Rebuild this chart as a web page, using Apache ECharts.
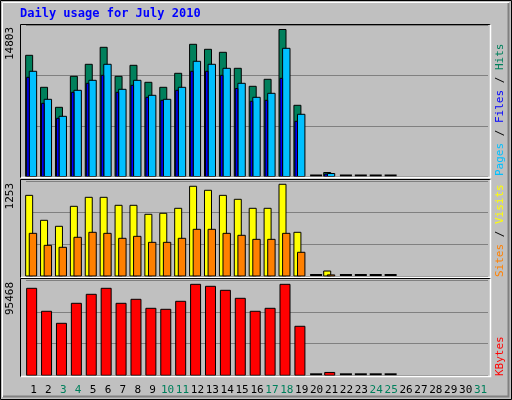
<!DOCTYPE html>
<html><head><meta charset="utf-8">
<script src="https://cdn.jsdelivr.net/npm/echarts@6/dist/echarts.min.js"></script>
<style>html,body{margin:0;padding:0;background:#c0c0c0}#c{width:512px;height:400px}</style>
</head><body><div id="c"></div>
<script>
const days = Array.from({length:31},(_,i)=>String(i+1));
const weekend = [3,4,10,11,17,18,24,25,31];
const hits  = [12205,8982,6968,10090,11298,13010,10090,11198,9486,8982,10392,13312,12809,12507,10896,9083,9788,14803,7170,0,400,0,0,0,0,null,null,null,null,null,null];
const pages = [10594,7774,6062,8680,9687,11299,8781,9687,8177,7774,8982,11601,11299,10896,9385,7975,8378,12910,6264,0,300,0,0,0,0,null,null,null,null,null,null];
const files = [9989,7371,5861,8479,9385,10191,8479,9184,7975,7673,8680,10594,10594,10191,8862,7573,7673,9889,5559,0,250,0,0,0,0,null,null,null,null,null,null];
const visits= [1102,761,679,952,1075,1075,966,966,843,857,925,1226,1171,1102,1048,925,925,1253,597,0,68,0,0,0,0,null,null,null,null,null,null];
const sites = [583,419,392,529,597,583,515,542,460,460,515,638,638,583,556,501,501,583,324,0,15,0,0,0,0,null,null,null,null,null,null];
const kbytes= [91290,67160,54560,75550,84990,91290,75550,79750,70300,69250,77650,95468,93390,89190,80800,67160,70300,95468,51420,0,3000,0,0,0,0,null,null,null,null,null,null];
const maxLabels = ['14803','1253','95468'];

const FONT = 'DejaVu Sans Mono';
const grids = [{top:25,height:151.5},{top:181,height:95},{top:280,height:95.3}];
const maxes = [15256,1298,100000];

function barSeries(data, gi, x0, x1, color, dash){
  return {type:'custom', xAxisIndex:gi, yAxisIndex:gi, data:data.map((v,i)=>[i,v]),
    renderItem(params, api){
      const v = api.value(1);
      if (v === null || isNaN(v)) return;
      const base = api.coord([api.value(0),0]);
      if (v === 0) {
        if (!dash) return;
        return {type:'rect', shape:{x:base[0]-6.5,y:base[1]-2,width:12,height:2}, style:{fill:'#000'}};
      }
      const top = api.coord([api.value(0),v]);
      return {type:'rect', shape:{x:base[0]+x0, y:top[1], width:x1-x0, height:base[1]-top[1]},
        style:{fill:color, stroke:'#000', lineWidth:1}};
    }};
}

const xAxes = grids.map((g,i)=>({type:'category', gridIndex:i, data:days, boundaryGap:true,
  axisLine:{show:false}, axisTick:{show:false},
  axisLabel:{show:i===2, margin:9, interval:0, fontFamily:FONT, fontSize:11,
    formatter:(v)=> weekend.includes(+v) ? '{w|'+v+'}' : '{n|'+v+'}',
    rich:{w:{color:'#00805c',fontFamily:FONT,fontSize:11},n:{color:'#000',fontFamily:FONT,fontSize:11}}}}));
const yAxes = grids.map((g,i)=>({type:'value', gridIndex:i, min:0, max:maxes[i], interval:maxes[i]/3,
  axisLabel:{show:false}, axisLine:{show:false}, axisTick:{show:false},
  splitLine:{show:true, lineStyle:{color:'#808080', width:1}}}));

const graphic = [
  {type:'rect', shape:{x:0.5,y:0.5,width:511,height:399}, style:{fill:'#c0c0c0',stroke:'#000'}, z:-10},
  {type:'polyline', shape:{points:[[2.5,397],[2.5,2.5],[509,2.5]]}, style:{stroke:'#fff',fill:null}, z:-9},
  {type:'polyline', shape:{points:[[3,396.5],[508.5,396.5],[508.5,3]]}, style:{stroke:'#808080',lineWidth:2,fill:null}, z:-9},
  {type:'text', left:20, top:8, style:{text:'Daily usage for July 2010', fill:'#0000ff', font:'bold 12px '+FONT}},
];
const frames = [[24.5,177.5],[179.5,277.5],[278.5,376.5]];
frames.forEach(f=>{
  graphic.push({type:'polyline', shape:{points:[[20.5,f[1]],[20.5,f[0]],[490.5,f[0]]]}, style:{stroke:'#000',fill:null}, z:5});
  graphic.push({type:'polyline', shape:{points:[[21,f[1]],[490.5,f[1]],[490.5,f[0]]]}, style:{stroke:'#fff',fill:null,lineWidth:1.5}, z:5});
});
const lblY = [25,181,280];
maxLabels.forEach((t,i)=>{
  graphic.push({type:'text', x:10, y:lblY[i]+2, rotation:Math.PI/2,
    style:{text:t, fill:'#000', font:'11px '+FONT, align:'right', verticalAlign:'middle'}});
});
function sideLabel(yBottom, parts){
  graphic.push({type:'text', x:500, y:yBottom, rotation:Math.PI/2,
    style:{text:parts.map(p=>'{'+p[1]+'|'+p[0]+'}').join(''), align:'left', verticalAlign:'middle',
      rich:{
        g:{fill:'#00805c',font:'11px '+FONT}, b:{fill:'#0000ff',font:'11px '+FONT}, c:{fill:'#00c0ff',font:'11px '+FONT},
        k:{fill:'#000',font:'11px '+FONT}, y:{fill:'#ffff00',font:'11px '+FONT}, o:{fill:'#ff8000',font:'11px '+FONT},
        r:{fill:'#ff0000',font:'11px '+FONT}}}});
}
sideLabel(176, [['Pages','c'],[' / ','k'],['Files','b'],[' / ','k'],['Hits','g']]);
sideLabel(277, [['Sites','o'],[' / ','k'],['Visits','y']]);
sideLabel(376, [['KBytes','r']]);

const chart = echarts.init(document.getElementById('c'), null, {renderer:'canvas'});
chart.setOption({
  backgroundColor:'#c0c0c0', animation:false,
  grid: grids.map(g=>({left:26, right:24, top:g.top, height:g.height})),
  xAxis:xAxes, yAxis:yAxes, graphic,
  series:[
    barSeries(hits,0,-7.8,-0.8,'#00805c',true),
    barSeries(pages,0,-4.2,3.2,'#00c0ff',false),
    barSeries(files,0,-6.8,-4.2,'#0000ff',false),
    barSeries(visits,1,-7.8,-0.8,'#ffff00',true),
    barSeries(sites,1,-4.2,3.2,'#ff8000',false),
    barSeries(kbytes,2,-6.8,3.2,'#ff0000',true),
  ]
});
</script></body></html>
